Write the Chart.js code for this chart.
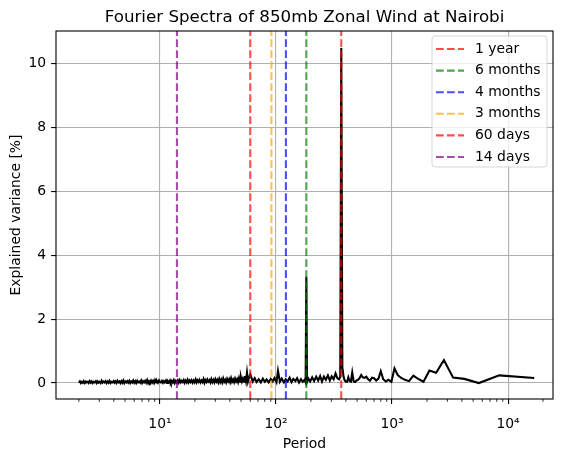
<!DOCTYPE html>
<html>
<head>
<meta charset="utf-8">
<script src="https://cdn.jsdelivr.net/npm/chart.js@4.4.1/dist/chart.umd.min.js"></script>
<style>
  html, body { margin: 0; padding: 0; background: #fff; }
  canvas { display: block; }
</style>
</head>
<body>
<canvas id="grafico" width="563" height="457"></canvas>
<script>
// Espectro de Fourier - vento zonal 850mb em Nairobi

// periodos curtos (2 a 10 dias)
const periodosCurtos = [2.0, 2.04, 2.08, 2.12, 2.16, 2.2, 2.25, 2.3, 2.34, 2.39,
    2.43, 2.48, 2.53, 2.58, 2.63, 2.68, 2.74, 2.8, 2.85, 2.91,
    2.96, 3.02, 3.08, 3.14, 3.2, 3.27, 3.33, 3.4, 3.46, 3.53,
    3.6, 3.67, 3.75, 3.82, 3.9, 3.98, 4.05, 4.13, 4.21, 4.3,
    4.38, 4.47, 4.56, 4.65, 4.74, 4.84, 4.93, 5.03, 5.13, 5.23,
    5.33, 5.44, 5.55, 5.66, 5.77, 5.88, 6.0, 6.12, 6.24, 6.37,
    6.49, 6.62, 6.75, 6.89, 7.02, 7.16, 7.3, 7.45, 7.6, 7.75,
    7.9, 8.05, 8.2, 8.37, 8.55, 8.72, 8.9, 9.07, 9.25, 9.42,
    9.6, 9.8, 10.0];
const varianciaCurtos = [0.01, 0.05, 0.0, 0.04, 0.01, 0.06, 0.0, 0.05, 0.02, 0.04,
    0.0, 0.06, 0.01, 0.05, 0.0, 0.04, 0.02, 0.06, 0.0, 0.05,
    0.01, 0.04, 0.0, 0.07, 0.01, 0.05, 0.02, 0.06, 0.0, 0.05,
    0.01, 0.07, 0.0, 0.04, 0.02, 0.06, 0.01, 0.05, 0.0, 0.07,
    0.02, 0.05, 0.0, 0.06, 0.01, 0.08, 0.0, 0.05, 0.02, 0.06,
    0.01, 0.07, 0.0, 0.05, 0.02, 0.08, 0.01, 0.06, 0.0, 0.07,
    0.02, 0.05, 0.01, 0.08, 0.0, 0.06, 0.02, 0.07, 0.01, 0.09,
    0.0, 0.06, 0.02, 0.08, 0.01, 0.07, 0.0, 0.09, 0.02, 0.06,
    0.01, 0.08, 0.03];

// periodos medios (10 a 60 dias)
const periodosMedios = [10.2, 10.4, 10.6, 10.8, 11.0, 11.25, 11.5, 11.7, 11.95, 12.2,
    12.4, 12.65, 12.9, 13.15, 13.4, 13.7, 14.0, 14.25, 14.5, 14.8,
    15.1, 15.4, 15.7, 16.0, 16.3, 16.65, 17.0, 17.3, 17.65, 18.0,
    18.35, 18.7, 19.1, 19.5, 19.9, 20.3, 20.7, 21.1, 21.5, 21.9,
    22.35, 22.8, 23.25, 23.7, 24.15, 24.6, 25.1, 25.6, 26.1, 26.7,
    27.2, 27.7, 28.25, 28.8, 29.4, 30.0, 30.6, 31.2, 31.8, 32.4,
    33.05, 33.7, 34.4, 35.1, 35.8, 36.5, 37.2, 37.9, 38.7, 39.5,
    40.2, 41.0, 41.8, 42.7, 43.5, 44.4, 45.3, 46.2, 47.1, 48.0,
    49.0, 49.9, 50.9, 51.9, 53.0, 54.0, 55.1, 56.2, 57.3, 58.4, 60.0];
const varianciaMedios = [0.02, 0.07, 0.01, 0.06, 0.02, 0.08, 0.0, 0.06, 0.02, 0.08,
    0.01, 0.07, 0.02, 0.09, 0.0, 0.07, 0.02, 0.08, 0.01, 0.09,
    0.02, 0.07, 0.03, 0.09, 0.01, 0.08, 0.02, 0.1, 0.02, 0.08,
    0.03, 0.09, 0.01, 0.08, 0.02, 0.11, 0.02, 0.09, 0.04, 0.1,
    0.02, 0.08, 0.03, 0.12, 0.01, 0.09, 0.03, 0.11, 0.04, 0.09,
    0.02, 0.12, 0.03, 0.1, 0.02, 0.12, 0.04, 0.1, 0.02, 0.13,
    0.03, 0.11, 0.02, 0.14, 0.04, 0.1, 0.02, 0.13, 0.05, 0.12,
    0.03, 0.15, 0.04, 0.11, 0.03, 0.14, 0.05, 0.12, 0.03, 0.16,
    0.04, 0.18, 0.05, 0.14, 0.04, 0.22, 0.06, 0.33, 0.05, 0.16, 0.28];

// periodos sazonais (60 a 382 dias)
const periodosSazonais = [63, 65.5, 68, 71, 74, 77, 80, 83, 86.5, 90, 93.5, 97, 101, 104, 108, 112, 117, 121, 126, 131, 136, 141, 147, 152, 158, 164, 170, 176, 180, 182.6, 185, 190, 197, 205, 213, 222, 231, 240, 249, 259, 269, 280, 291, 302, 314, 326, 338, 350, 358, 365.2, 373, 382];
const varianciaSazonais = [0.05, 0.15, 0.03, 0.12, 0.02, 0.14, 0.04, 0.11, 0.02, 0.13, 0.05, 0.16, 0.03, 0.38, 0.04, 0.14, 0.02, 0.12, 0.05, 0.17, 0.03, 0.13, 0.06, 0.15, 0.02, 0.12, 0.04, 0.1, 0.02, 3.33, 0.03, 0.14, 0.05, 0.18, 0.06, 0.2, 0.08, 0.22, 0.05, 0.2, 0.1, 0.24, 0.08, 0.21, 0.12, 0.3, 0.15, 0.12, 0.2, 10.5, 0.5, 0.2];

// periodos longos (391 a 16800 dias)
const periodosLongos = [391, 400, 410, 420, 431, 442, 454, 467, 480, 494, 509, 525, 542, 560, 579, 600, 622, 646, 672, 700, 730, 764, 800, 840, 884, 933, 988, 1050, 1120, 1200, 1292, 1400, 1527, 1680, 1867, 2100, 2400, 2800, 3360, 4200, 5600, 8400, 16800];
const varianciaLongos = [0.08, 0.04, 0.04, 0.18, 0.06, 0.04, 0.33, 0.05, 0.03, 0.08, 0.1, 0.15, 0.25, 0.18, 0.16, 0.2, 0.12, 0.07, 0.17, 0.15, 0.08, 0.14, 0.37, 0.12, 0.05, 0.1, 0.04, 0.46, 0.25, 0.16, 0.1, 0.06, 0.23, 0.13, 0.04, 0.39, 0.32, 0.72, 0.17, 0.13, 0.0, 0.24, 0.16];

// linhas verticais de referencia
const rotulosRef = ['1 year', '6 months', '4 months', '3 months', '60 days', '14 days'];
const periodosRef = [365, 182.5, 121.7, 91.25, 60, 14];
const coresRef = ['rgba(255, 0, 0, 0.7)', 'rgba(0, 128, 0, 0.7)', 'rgba(0, 0, 255, 0.7)', 'rgba(255, 165, 0, 0.7)', 'rgba(255, 0, 0, 0.7)', 'rgba(128, 0, 128, 0.7)'];

// eixos
const xMin = 1.27, xMax = 24400;
const yMin = -0.5, yMax = 11.03;
const xTicks = [10, 100, 1000, 10000];
const xTickRotulos = ['10¹', '10²', '10³', '10⁴'];
const xTicksMenores = [2, 3, 4, 5, 6, 7, 8, 9, 20, 30, 40, 50, 60, 70, 80, 90, 200, 300, 400, 500, 600, 700, 800, 900, 2000, 3000, 4000, 5000, 6000, 7000, 8000, 9000, 20000];
const yTicks = [0, 2, 4, 6, 8, 10];

const FONTE = "'DejaVu Sans', sans-serif";
Chart.defaults.font.family = FONTE;
Chart.defaults.color = '#000';

const periodos = [...periodosCurtos, ...periodosMedios, ...periodosSazonais, ...periodosLongos];
const variancia = [...varianciaCurtos, ...varianciaMedios, ...varianciaSazonais, ...varianciaLongos];

const datasets = periodosRef.map((p, i) => ({
    label: rotulosRef[i],
    data: [{ x: p, y: yMin }, { x: p, y: yMax }],
    borderColor: coresRef[i],
    borderWidth: 2.08,
    borderDash: [7.7, 3.3],
    pointRadius: 0,
    order: 1
}));
datasets.push({
    label: 'spectrum',
    data: periodos.map((p, i) => ({ x: p, y: variancia[i] })),
    borderColor: '#000',
    borderWidth: 2.08,
    pointRadius: 0,
    tension: 0,
    order: 10
});

// titulo, bordas, ticks menores e legenda
const extras = {
    id: 'extras',
    afterDatasetsDraw(chart) {
        const { ctx, chartArea: a, scales } = chart;
        ctx.save();
        ctx.strokeStyle = '#000';
        ctx.lineWidth = 1.1;
        ctx.strokeRect(a.left, a.top, a.right - a.left, a.bottom - a.top);
        ctx.beginPath();
        xTicksMenores.forEach(v => {
            const px = scales.x.getPixelForValue(v);
            if (px < a.left || px > a.right) return;
            ctx.moveTo(px, a.bottom);
            ctx.lineTo(px, a.bottom + 2.8);
        });
        ctx.lineWidth = 0.83;
        ctx.stroke();
        ctx.restore();
    },
    afterDraw(chart) {
        const { ctx, chartArea: a } = chart;
        ctx.save();
        ctx.fillStyle = '#000';
        ctx.font = '16.7px ' + FONTE;
        ctx.textAlign = 'center';
        ctx.textBaseline = 'alphabetic';
        ctx.fillText('Fourier Spectra of 850mb Zonal Wind at Nairobi', (a.left + a.right) / 2, 22);

        // legenda
        const lx = 432, ly = 36, lw = 115, lh = 131;
        ctx.beginPath();
        ctx.roundRect(lx, ly, lw, lh, 3);
        ctx.fillStyle = 'rgba(255,255,255,0.8)';
        ctx.fill();
        ctx.strokeStyle = 'rgba(204,204,204,0.8)';
        ctx.lineWidth = 1;
        ctx.stroke();
        ctx.font = '13.9px ' + FONTE;
        ctx.textAlign = 'left';
        ctx.textBaseline = 'middle';
        rotulosRef.forEach((r, i) => {
            const y = 49 + i * 21.6;
            ctx.beginPath();
            ctx.setLineDash([7.7, 3.3]);
            ctx.strokeStyle = coresRef[i];
            ctx.lineWidth = 2.08;
            ctx.moveTo(436, y);
            ctx.lineTo(464, y);
            ctx.stroke();
            ctx.setLineDash([]);
            ctx.fillStyle = '#000';
            ctx.fillText(r, 475, y);
        });
        ctx.restore();
    }
};

new Chart(document.getElementById('grafico'), {
    type: 'line',
    data: { datasets },
    options: {
        responsive: false,
        animation: false,
        devicePixelRatio: 1,
        layout: { padding: { top: 31, right: 10, left: 0, bottom: 0 } },
        plugins: { legend: { display: false }, title: { display: false }, tooltip: { enabled: false } },
        scales: {
            x: {
                type: 'logarithmic',
                min: xMin,
                max: xMax,
                afterFit: s => { s.height = 58; },
                afterBuildTicks: s => { s.ticks = xTicks.map(v => ({ value: v, major: true })); },
                grid: { color: '#b0b0b0', lineWidth: 1.1, tickLength: 4.9, tickColor: '#000', tickWidth: 1.1 },
                border: { display: false },
                ticks: {
                    autoSkip: false,
                    maxRotation: 0,
                    padding: 12,
                    font: { size: 13.9 },
                    callback: v => xTickRotulos[xTicks.indexOf(v)] ?? ''
                },
                title: { display: true, text: 'Period', font: { size: 13.9 }, padding: { top: 0, bottom: 4 } }
            },
            y: {
                type: 'linear',
                min: yMin,
                max: yMax,
                afterFit: s => { s.width = 56; },
                afterBuildTicks: s => { s.ticks = yTicks.map(v => ({ value: v })); },
                grid: { color: '#b0b0b0', lineWidth: 1.1, tickLength: 4.9, tickColor: '#000', tickWidth: 1.1 },
                border: { display: false },
                ticks: { padding: 5, font: { size: 13.9 } },
                title: { display: true, text: 'Explained variance [%]', font: { size: 13.9 }, padding: { top: 8, bottom: 0 } }
            }
        }
    },
    plugins: [extras]
});
</script>
</body>
</html>
